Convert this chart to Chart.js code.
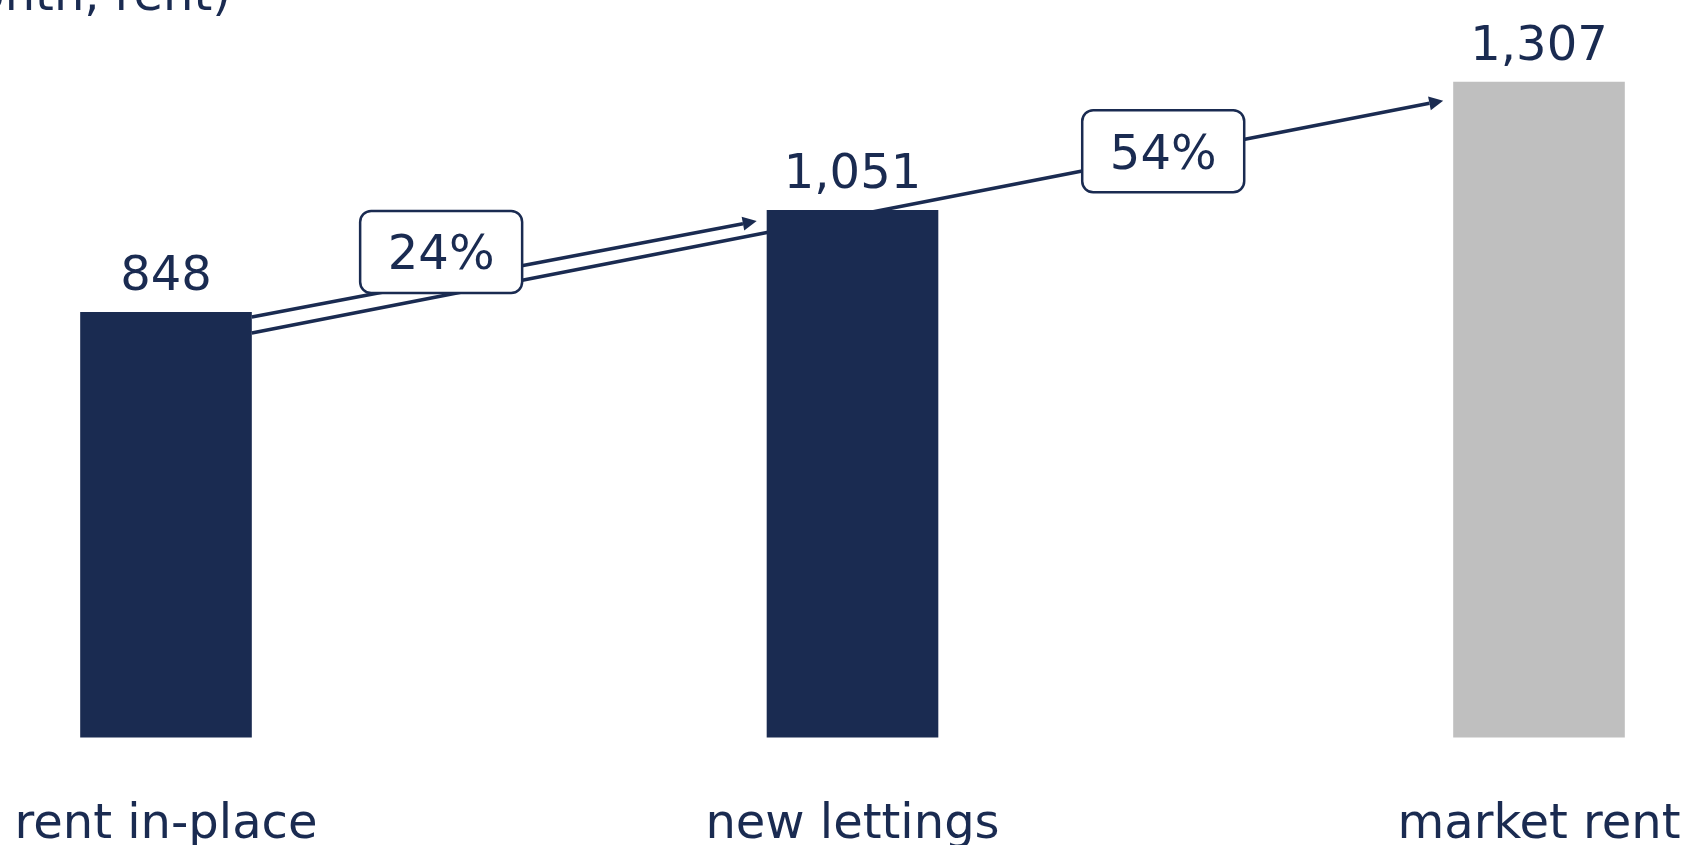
<!DOCTYPE html>
<html>
<head>
<meta charset="utf-8">
<title>Rent comparison</title>
<script src="https://cdn.jsdelivr.net/npm/chart.js@4.4.1/dist/chart.umd.min.js"></script>
<style>
    html, body { margin: 0; padding: 0; background: #ffffff; overflow: hidden; }
    #rent-wrap { position: relative; width: 1693px; height: 845px; }
</style>
</head>
<body>
<div id="rent-wrap"><canvas id="rentChart"></canvas></div>
<script>
const categories = ['rent in-place', 'new lettings', 'market rent'];
const rentValues = [848, 1051, 1307];
const barColors = ['#1a2b51', '#1a2b51', '#bfbfbf'];
// growth arrows, always measured against the starting bar
const growthFrom = [0, 0];
const growthTo = [1, 2];
const unitTitle = '(EUR/sqm/month, rent)';

const NAVY = '#1a2b51';
const FONT = "'DejaVu Sans', Verdana, sans-serif";

Chart.defaults.plugins.legend.display = false;
Chart.defaults.plugins.tooltip.enabled = false;
Chart.defaults.animation = false;
Chart.defaults.responsive = true;
Chart.defaults.maintainAspectRatio = false;

function growthLabel(k) {
    let pct = (rentValues[growthTo[k]] / rentValues[growthFrom[k]] - 1) * 100;
    return Math.round(pct) + '%';
}

function arrowGeometry(chart, k, a) {
    let bars = chart.getDatasetMeta(0).data;
    let b0 = bars[growthFrom[k]];
    let b1 = bars[growthTo[k]];
    return {
        x0: b0.x + b0.width / 2,
        y0: b0.y + a.startDrop,
        x1: b1.x - b1.width / 2 - a.gap,
        y1: b1.y + a.endDrop
    };
}

function roundRect(ctx, x, y, w, h, r) {
    ctx.beginPath();
    ctx.moveTo(x + r, y);
    ctx.lineTo(x + w - r, y);
    ctx.arcTo(x + w, y, x + w, y + r, r);
    ctx.lineTo(x + w, y + h - r);
    ctx.arcTo(x + w, y + h, x + w - r, y + h, r);
    ctx.lineTo(x + r, y + h);
    ctx.arcTo(x, y + h, x, y + h - r, r);
    ctx.lineTo(x, y + r);
    ctx.arcTo(x, y, x + r, y, r);
    ctx.closePath();
}

// arrows go under the bars, boxes and value labels on top
const rentAnnotations = {
    id: 'rentAnnotations',
    beforeDatasetsDraw(chart, args, opts) {
        let ctx = chart.ctx;
        ctx.save();
        ctx.strokeStyle = NAVY;
        ctx.fillStyle = NAVY;
        ctx.lineWidth = 3.5;
        opts.arrows.forEach((a, k) => {
            let g = arrowGeometry(chart, k, a);
            let ang = Math.atan2(g.y1 - g.y0, g.x1 - g.x0);
            let hl = 14, hw = 7;
            let bx = g.x1 - hl * Math.cos(ang);
            let by = g.y1 - hl * Math.sin(ang);
            ctx.beginPath();
            ctx.moveTo(g.x0, g.y0);
            ctx.lineTo(bx, by);
            ctx.stroke();
            ctx.beginPath();
            ctx.moveTo(g.x1, g.y1);
            ctx.lineTo(bx + hw * Math.sin(ang), by - hw * Math.cos(ang));
            ctx.lineTo(bx - hw * Math.sin(ang), by + hw * Math.cos(ang));
            ctx.closePath();
            ctx.fill();
        });
        ctx.restore();
    },
    afterDatasetsDraw(chart, args, opts) {
        let ctx = chart.ctx;
        let bars = chart.getDatasetMeta(0).data;
        ctx.save();
        ctx.font = '48px ' + FONT;
        ctx.fillStyle = NAVY;
        ctx.textAlign = 'center';
        ctx.textBaseline = 'alphabetic';
        bars.forEach((bar, i) => {
            ctx.fillText(rentValues[i].toLocaleString('en-US'), bar.x, bar.y - 22);
        });

        opts.arrows.forEach((a, k) => {
            let g = arrowGeometry(chart, k, a);
            let cx = g.x0 + (g.x1 - g.x0) * a.boxAt;
            let cy = g.y0 + (g.y1 - g.y0) * a.boxAt + a.boxLift;
            let w = 162, h = 82;
            roundRect(ctx, cx - w / 2, cy - h / 2, w, h, 11);
            ctx.fillStyle = '#ffffff';
            ctx.fill();
            ctx.lineWidth = 2.5;
            ctx.strokeStyle = NAVY;
            ctx.stroke();
            ctx.fillStyle = NAVY;
            ctx.textBaseline = 'middle';
            ctx.fillText(growthLabel(k), cx, cy + 5);
        });

        // unit line, mostly above the top edge
        ctx.textAlign = 'right';
        ctx.textBaseline = 'alphabetic';
        ctx.fillText(unitTitle, 231, 9.5);
        ctx.restore();
    }
};

function makeRentChart(id) {
    let ctx = document.getElementById(id).getContext('2d');
    return new Chart(ctx, {
        type: 'bar',
        data: {
            labels: categories,
            datasets: [{
                data: rentValues,
                backgroundColor: barColors,
                borderWidth: 0,
                categoryPercentage: 0.25,
                barPercentage: 1.0,
                clip: false
            }]
        },
        options: {
            // tall tick line box pushes the category names down below the bars
            layout: {padding: {left: 166, right: 154, top: 35, bottom: -69.6}},
            scales: {
                x: {
                    offset: false,
                    grid: {display: false, drawTicks: false},
                    border: {display: false},
                    ticks: {
                        color: NAVY,
                        font: {family: FONT, size: 48, lineHeight: 3.358},
                        padding: 8,
                        maxRotation: 0,
                        autoSkip: false
                    }
                },
                y: {display: false, min: 0, max: 1400}
            },
            plugins: {
                rentAnnotations: {
                    arrows: [
                        {startDrop: 5, endDrop: 11, gap: 10, boxAt: 0.375, boxLift: -29},
                        {startDrop: 21, endDrop: 19, gap: 10, boxAt: 0.765, boxLift: -4}
                    ]
                }
            }
        },
        plugins: [rentAnnotations]
    });
}

makeRentChart('rentChart');
</script>
</body>
</html>
